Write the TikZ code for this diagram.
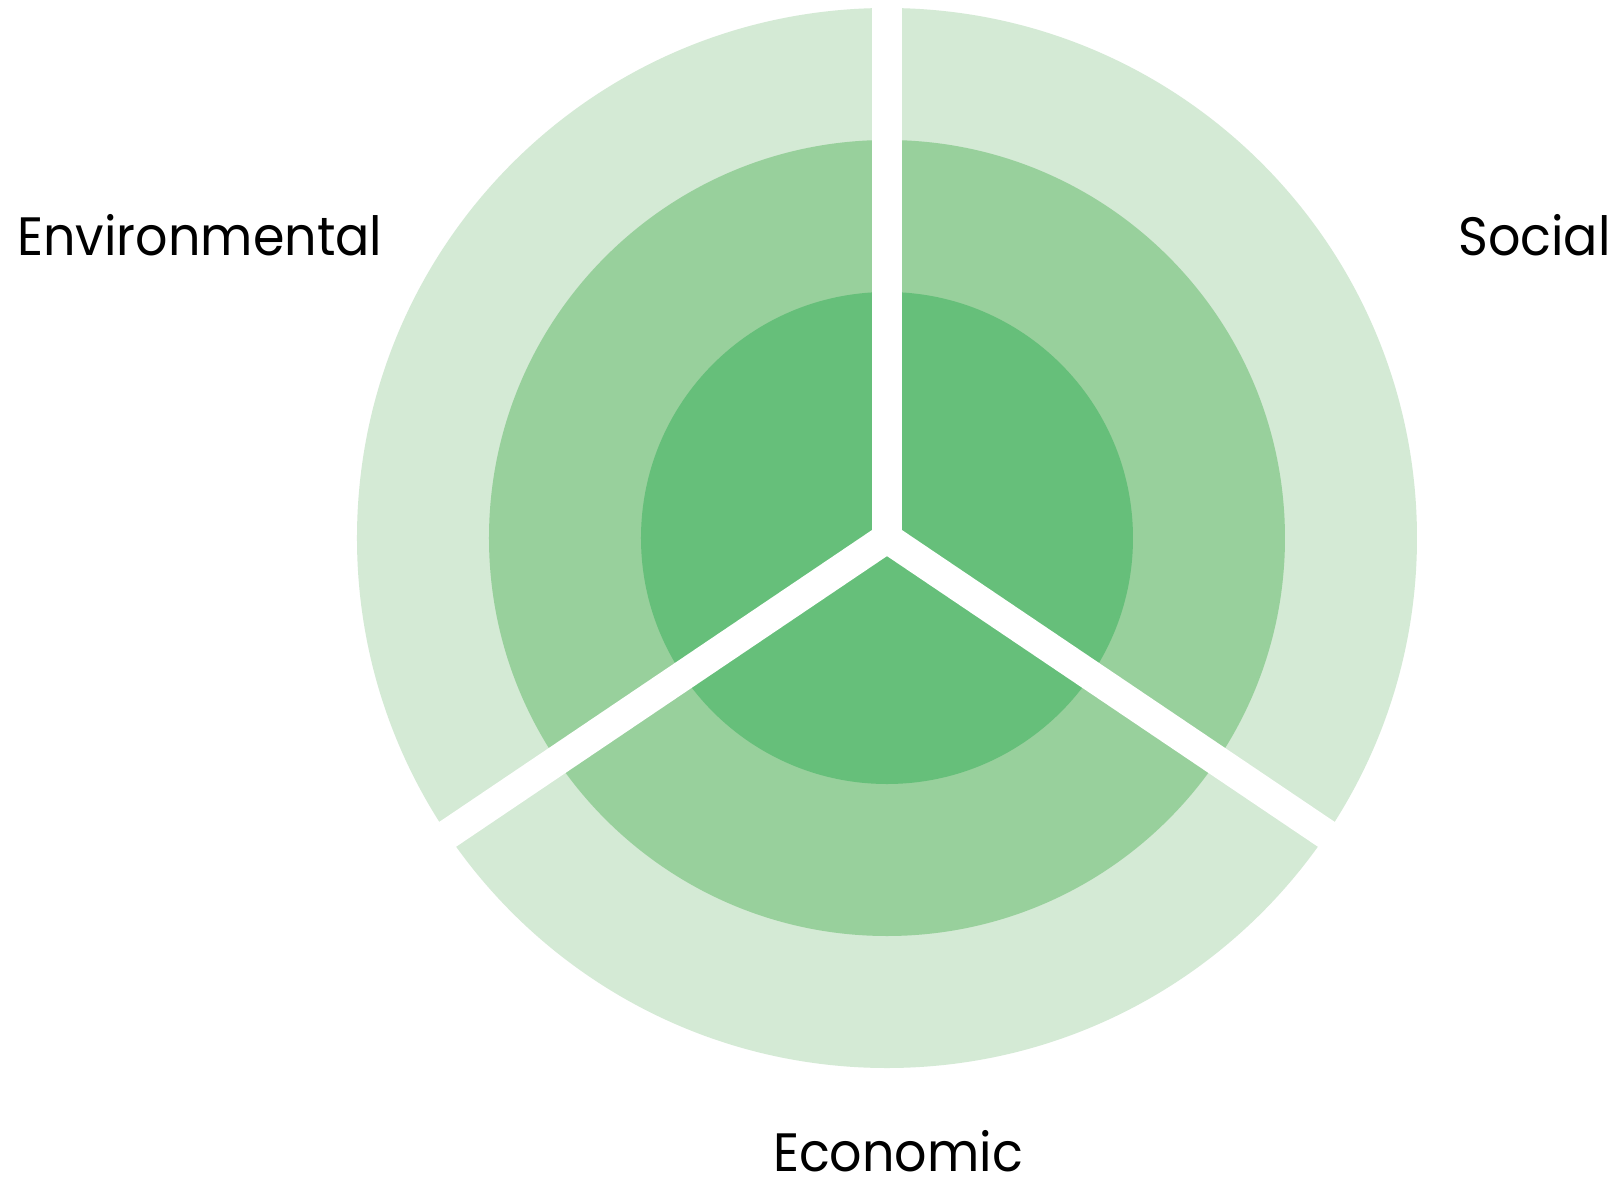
\documentclass[tikz,border=0pt]{standalone}
\usepackage{fontspec}
\setmainfont[FakeStretch = 0.94]{Poppins}
\usepackage{xcolor}
\definecolor{ringcolor1}{HTML}{D4EAD5}
\definecolor{ringcolor2}{HTML}{98D09C}
\definecolor{ringcolor3}{HTML}{66BF7A}

\begin{document}
\begin{tikzpicture}[x = 0.5pt, y = 0.5pt, label/.style = {inner sep = 0pt, font = \fontsize{27}{32}\selectfont}]

        \fill [white] (-887, -642) rectangle (732, 538);
        \useasboundingbox (-887, -642) rectangle (732, 538);

        % Rings
        \fill [ringcolor1] (0, 0) circle (530);
        \fill [ringcolor2] (0, 0) circle (398);
        \fill [ringcolor3] (0, 0) circle (246);

        % Gaps
        \coordinate (o) at (0, 0);
        \coordinate (top) at (90:600);
        \coordinate (left) at (214:600);
        \coordinate (right) at (326:600);
        \draw [white, line width = 15pt] (o) -- (top);
        \draw [white, line width = 15pt] (o) -- (left);
        \draw [white, line width = 15pt] (o) -- (right);

        % Labels
        \node [label, anchor = base west] (env) at (-870, 283) {Environmental};
        \node [label, anchor = base east] (soc) at (724, 283) {Social};
        \node [label, anchor = base] (eco) at (11, -633) {Economic};

    \end{tikzpicture}
\end{document}
